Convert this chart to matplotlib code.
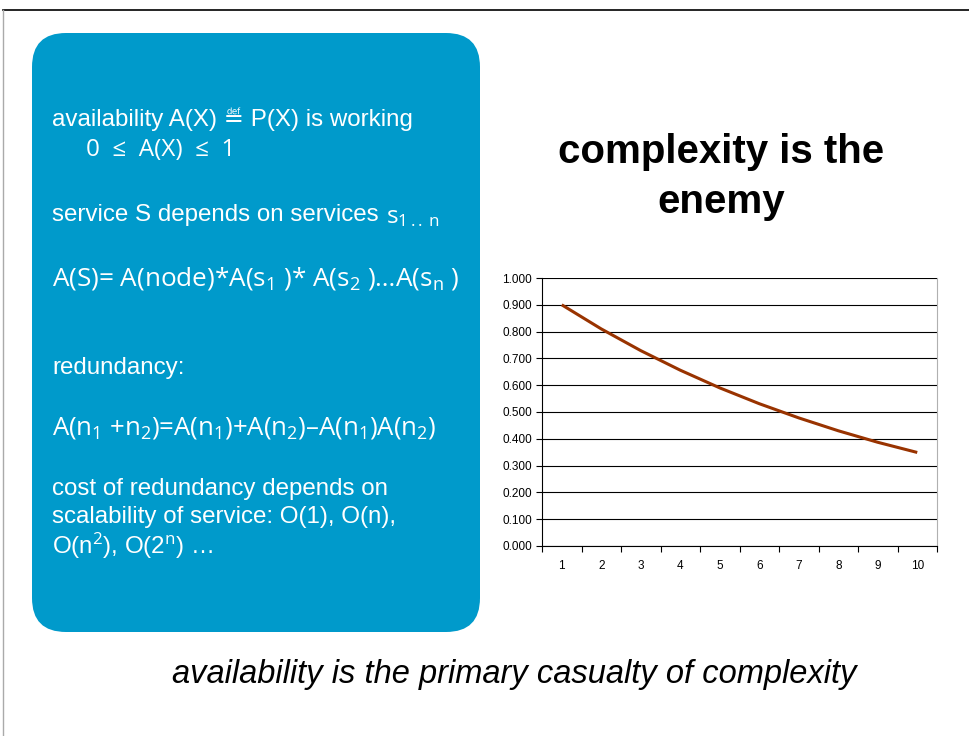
import matplotlib
matplotlib.use("Agg")
import matplotlib.pyplot as plt
from matplotlib.patches import FancyBboxPatch
import numpy as np

# data
n_services = [1, 2, 3, 4, 5, 6, 7, 8, 9, 10]
availability = [0.900, 0.810, 0.729, 0.656, 0.590, 0.531, 0.478, 0.430, 0.387, 0.349]
y_ticks = [0.0, 0.1, 0.2, 0.3, 0.4, 0.5, 0.6, 0.7, 0.8, 0.9, 1.0]

title_lines = ["complexity is the", "enemy"]
footer_text = "availability is the primary casualty of complexity"

plt.rcParams['mathtext.fontset'] = 'custom'
plt.rcParams['mathtext.rm'] = 'Open Sans'
plt.rcParams['mathtext.it'] = 'Open Sans'
plt.rcParams['mathtext.default'] = 'rm'

W, H = 969, 736
fig = plt.figure(figsize=(W / 100, H / 100), dpi=100)

# background axes in pixel coordinates
bg = fig.add_axes([0, 0, 1, 1])
bg.set_xlim(0, W)
bg.set_ylim(H, 0)
bg.axis("off")

bg.plot([3, W], [10, 10], color="black", lw=1.2)
bg.plot([3, 3], [10, H], color="#aaaaaa", lw=1)

box = FancyBboxPatch((32, 33), 448, 599, boxstyle="round,pad=0,rounding_size=34",
                     facecolor="#009ACB", edgecolor="none")
bg.add_patch(box)

sans = ['Liberation Sans', 'DejaVu Sans']
opt = ['Open Sans', 'DejaVu Sans']
white = "white"
fs = 17.4
fo = 17.5

bg.text(52, 119, "availability A(X) \u225d P(X) is working", color=white, fontsize=fs,
        family=sans, va="center")
bg.text(86, 150, "0  \u2264  A(X)  \u2264  1", color=white, fontsize=fo, family=opt, va="center")
bg.text(52, 215, "service S depends on services", color=white, fontsize=fs, family=sans,
        va="center")
bg.text(386, 217, "s$_{1\u2009..\u2009n}$", color=white, fontsize=fo, family=opt, va="center")
bg.text(52, 278, "A(S)= A(node)*A(s$_1$ )* A(s$_2$ )\u2026A(s$_n$ )", color=white,
        fontsize=18.8, family=opt, va="center")
bg.text(52, 368, "redundancy:", color=white, fontsize=fs, family=sans, va="center")
bg.text(52, 428, "A(n$_1$ +n$_2$)=A(n$_1$)+A(n$_2$)\u2013A(n$_1$)A(n$_2$)", color=white,
        fontsize=18.5, family=opt, va="center")
bg.text(52, 489, "cost of redundancy depends on", color=white, fontsize=fs, family=sans,
        va="center")
bg.text(52, 517, "scalability of service: O(1), O(n),", color=white, fontsize=fs,
        family=sans, va="center")
bg.text(52, 546, "O(n$^2$), O(2$^n$) \u2026", color=white, fontsize=fs, family=sans,
        va="center")

bg.text(721, 152, title_lines[0], fontsize=29, fontweight="bold", family=sans,
        ha="center", va="center")
bg.text(721, 202, title_lines[1], fontsize=29, fontweight="bold", family=sans,
        ha="center", va="center")
bg.text(514, 674, footer_text, fontsize=23.5, style="italic", family=sans,
        ha="center", va="center")

# chart
ax = fig.add_axes([542 / W, 1 - 546 / H, (937 - 542) / W, (546 - 278) / H])
ax.plot(n_services, availability, color="#993300", lw=2.2, solid_capstyle="butt")
ax.set_xlim(0.5, 10.5)
ax.set_ylim(0, 1)
ax.set_yticks(y_ticks)
ax.set_yticklabels(["%.3f" % v for v in y_ticks], fontsize=8.5, family=sans)
ax.set_xticks(np.arange(0.5, 11, 1))
ax.set_xticklabels([])
ax.set_xticks(n_services, minor=True)
ax.set_xticklabels([str(v) for v in n_services], minor=True, fontsize=8.5, family=sans)
ax.tick_params(axis="x", which="major", length=4, direction="out", width=0.8)
ax.tick_params(axis="x", which="minor", length=0, pad=10)
ax.tick_params(axis="y", length=4, width=0.8, pad=3)
ax.yaxis.grid(True, color="black", lw=0.8)
ax.set_axisbelow(True)
ax.spines["top"].set_visible(False)
ax.spines["right"].set_color("#b0b0b0")
ax.spines["left"].set_linewidth(0.8)
ax.spines["bottom"].set_linewidth(0.8)

fig.savefig("out.png", dpi=100)
